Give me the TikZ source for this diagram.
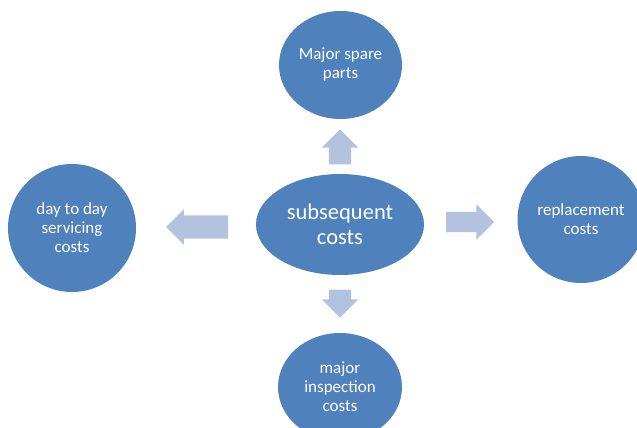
\documentclass[tikz,border=0pt]{standalone}
\usepackage{fontspec}
\setmainfont{Carlito}
\usepackage{xcolor}
\usetikzlibrary{shapes.geometric,shapes.arrows}

\definecolor{costblue}{HTML}{4F81BD}
\definecolor{arrowblue}{HTML}{B3C3DF}

\tikzset{
  costnode/.style={ellipse, fill=costblue, text=white, inner sep=0pt,
    align=center, font=\fontsize{17}{19}\selectfont},
  blockarrow/.style={single arrow, fill=arrowblue, inner sep=0pt,
    single arrow tip angle=90}
}

\begin{document}
\begin{tikzpicture}[x=1pt, y=-1pt]
  \useasboundingbox (0,0) rectangle (637,428);

  \node[costnode, minimum width=168pt, minimum height=101pt,
    font=\fontsize{22.5}{25}\selectfont] (S) at (340,224.5) {subsequent\\costs};
  \node[costnode, minimum width=123pt, minimum height=108pt] (T) at (340.5,65) {Major spare\\parts};
  \node[costnode, minimum width=128pt, minimum height=128pt] (L) at (72,228) {day to day\\servicing\\costs};
  \node[costnode, minimum width=127pt, minimum height=127pt] (R) at (581,219.5) {replacement\\costs};
  \node[costnode, minimum width=124pt, minimum height=108pt] (B) at (340,387) {major\\inspection\\costs};

  \node[blockarrow, rotate=90, minimum height=35pt, inner ysep=11pt,
    single arrow head extend=7pt] (ST) at (340,152.5) {};
  \node[blockarrow, minimum height=48pt, inner ysep=10pt,
    single arrow head extend=7.5pt] (SR) at (465,222) {};
  \node[blockarrow, rotate=180, minimum height=62pt, inner ysep=11.5pt,
    single arrow head extend=6pt] (SL) at (203,227) {};
  \node[blockarrow, rotate=270, minimum height=28pt, inner ysep=11pt,
    single arrow head extend=7pt] (SB) at (340,298) {};
\end{tikzpicture}
\end{document}
